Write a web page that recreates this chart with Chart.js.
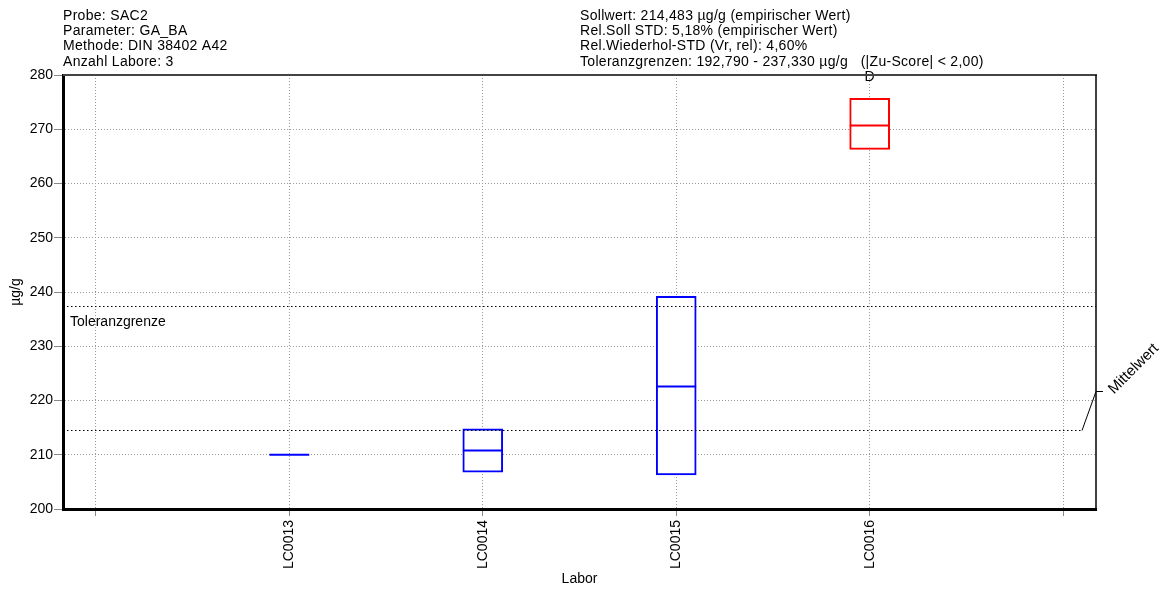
<!DOCTYPE html>
<html>
<head>
<meta charset="utf-8">
<script src="https://cdn.jsdelivr.net/npm/chart.js@4"></script>
<style>
html, body { margin: 0; padding: 0; background: #fff; }
canvas { display: block; }
</style>
</head>
<body>
<canvas id="chart" width="1173" height="589"></canvas>
<script>
// Labore und Boxwerte in µg/g
const labore = ["LC0013", "LC0014", "LC0015", "LC0016"];
const minWerte = [210.0, 206.8, 206.3, 266.3];
const medianWerte = [210.0, 210.8, 222.6, 270.7];
const maxWerte = [210.0, 214.8, 239.2, 275.7];
const markierung = ["", "", "", "D"];
const farben = ["#0000ff", "#0000ff", "#0000ff", "#ff0000"];

// Achsenbeschriftungen: leere Plätze links und rechts
const xLabels = ["", "LC0013", "LC0014", "LC0015", "LC0016", ""];
const yTicks = [200, 210, 220, 230, 240, 250, 260, 270, 280];

const sollwert = 214.483;
const toleranzOben = 237.330;

const kopfLinks = [
    "Probe: SAC2",
    "Parameter: GA_BA",
    "Methode: DIN 38402 A42",
    "Anzahl Labore: 3"
];
const kopfRechts = [
    "Sollwert: 214,483 µg/g (empirischer Wert)",
    "Rel.Soll STD: 5,18% (empirischer Wert)",
    "Rel.Wiederhol-STD (Vr, rel): 4,60%",
    "Toleranzgrenzen: 192,790 - 237,330 µg/g   (|Zu-Score| < 2,00)"
];

const FONT = '"Liberation Sans", Arial, sans-serif';
const boxHalb = 0.103; // halbe Boxbreite in x-Einheiten

// Boxen als schwebende Balken
const boxDaten = labore.map((l, i) => ({ x: i + 1, y: [minWerte[i], maxWerte[i]] }));

// Medianlinien, eine pro Labor
const medianSets = labore.map((l, i) => ({
    type: "line",
    data: [
        { x: i + 1 - boxHalb, y: medianWerte[i] },
        { x: i + 1 + boxHalb, y: medianWerte[i] }
    ],
    borderColor: farben[i],
    borderWidth: 2,
    pointRadius: 0,
    fill: false,
    order: 1
}));

function linie(ctx, x1, y1, x2, y2) {
    ctx.beginPath();
    ctx.moveTo(x1, y1);
    ctx.lineTo(x2, y2);
    ctx.stroke();
}

const beschriftung = {
    id: "beschriftung",
    afterDatasetsDraw(chart) {
        const { ctx, chartArea: a, scales: { x, y } } = chart;
        ctx.save();

        // Toleranzgrenze und Mittelwert (gepunktet)
        ctx.strokeStyle = "#000";
        ctx.lineWidth = 1;
        ctx.setLineDash([1.5, 2.5]);
        const yt = Math.round(y.getPixelForValue(toleranzOben)) + 0.5;
        linie(ctx, a.left, yt, a.right, yt);
        const ym = Math.round(y.getPixelForValue(sollwert)) + 0.5;
        linie(ctx, a.left, ym, a.right - 14, ym);

        // Hinweislinie zum Mittelwert
        ctx.setLineDash([]);
        ctx.beginPath();
        ctx.moveTo(a.right - 14, ym);
        ctx.lineTo(a.right, ym - 39);
        ctx.lineTo(a.right + 7, ym - 39);
        ctx.stroke();

        ctx.fillStyle = "#000";
        ctx.font = "14px " + FONT;
        ctx.textBaseline = "middle";
        ctx.textAlign = "left";
        ctx.fillText("Toleranzgrenze", a.left + 7, yt + 16);

        ctx.save();
        ctx.font = "15px " + FONT;
        ctx.translate(a.right + 15, ym - 39);
        ctx.rotate(-Math.PI / 4);
        ctx.fillText("Mittelwert", 0, 0);
        ctx.restore();

        // Markierungen über den Boxen
        ctx.textAlign = "center";
        markierung.forEach((m, i) => {
            if (m) ctx.fillText(m, x.getPixelForValue(i + 1), a.top + 2);
        });

        // Rahmen oben und rechts
        ctx.strokeStyle = "#444";
        ctx.lineWidth = 2;
        linie(ctx, a.left, a.top, a.right + 1, a.top);
        ctx.strokeStyle = "#000";
        ctx.lineWidth = 1.5;
        linie(ctx, a.right, a.top, a.right, a.bottom);

        // Kopfzeilen
        ctx.textAlign = "left";
        ctx.textBaseline = "alphabetic";
        ctx.letterSpacing = "0.3px";
        kopfLinks.forEach((t, i) => ctx.fillText(t, a.left, 20 + i * 15.2));
        kopfRechts.forEach((t, i) => ctx.fillText(t, 580, 20 + i * 15.2));

        ctx.restore();
    }
};

new Chart(document.getElementById("chart"), {
    type: "bar",
    data: {
        datasets: [
            {
                data: boxDaten,
                backgroundColor: "#ffffff",
                borderColor: farben,
                borderWidth: 2,
                borderSkipped: false,
                barThickness: 40,
                grouped: false,
                order: 2
            },
            ...medianSets
        ]
    },
    options: {
        responsive: false,
        animation: false,
        layout: { padding: { top: 75, right: 77, left: 0, bottom: 0 } },
        plugins: { legend: { display: false }, tooltip: { enabled: false } },
        scales: {
            x: {
                type: "linear",
                min: -0.17,
                max: 5.17,
                offset: false,
                afterBuildTicks: s => { s.ticks = xLabels.map((l, i) => ({ value: i })); },
                afterFit: s => { s.height = 80; },
                ticks: {
                    autoSkip: false,
                    minRotation: 90,
                    maxRotation: 90,
                    padding: 4,
                    color: "#000",
                    font: { family: FONT, size: 14 },
                    callback: v => xLabels[v] ?? ""
                },
                grid: {
                    offset: false,
                    color: "#999",
                    lineWidth: 1,
                    tickLength: 7,
                    tickColor: "#888",
                    tickBorderDash: []
                },
                border: { display: true, color: "#000", width: 3, dash: [1, 2] },
                title: {
                    display: true,
                    text: "Labor",
                    color: "#000",
                    font: { family: FONT, size: 14 },
                    padding: { top: 0, bottom: 1 }
                }
            },
            y: {
                min: 200,
                max: 280,
                afterBuildTicks: s => { s.ticks = yTicks.map(v => ({ value: v })); },
                afterFit: s => { s.width = 63; },
                ticks: {
                    padding: 1,
                    color: "#000",
                    font: { family: FONT, size: 14 }
                },
                grid: {
                    color: "#999",
                    lineWidth: 1,
                    tickLength: 9,
                    tickColor: "#888",
                    tickBorderDash: []
                },
                border: { display: true, color: "#000", width: 3, dash: [1, 2] },
                title: {
                    display: true,
                    text: "µg/g",
                    color: "#000",
                    font: { family: FONT, size: 14 },
                    padding: { top: 8, bottom: 0 }
                }
            }
        }
    },
    plugins: [beschriftung]
});
</script>
</body>
</html>
